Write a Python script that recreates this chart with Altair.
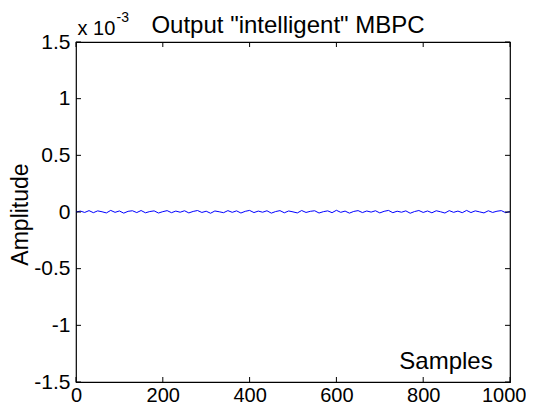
import altair as alt
import pandas as pd

# Output amplitude (units of 1e-3), one value every 10 samples
amplitude = [
    0.000, 0.008, -0.004, 0.012, -0.006, 0.010, 0.002, -0.008, 0.014, -0.003,
    0.009, -0.010, 0.006, 0.011, -0.005, 0.013, -0.007, 0.004, 0.010, -0.009,
    0.003, 0.012, -0.006, 0.008, -0.002, 0.011, -0.008, 0.005, 0.013, -0.004,
    0.007, -0.011, 0.009, 0.002, -0.006, 0.012, -0.003, 0.010, -0.009, 0.006,
    0.014, -0.005, 0.008, -0.002, 0.011, -0.010, 0.004, 0.012, -0.007, 0.009,
    0.001, -0.008, 0.013, -0.004, 0.006, 0.011, -0.009, 0.003, 0.010, -0.006,
    0.015, -0.003, 0.008, -0.010, 0.005, 0.012, -0.005, 0.009, -0.001, 0.011,
    -0.008, 0.006, 0.014, -0.006, 0.007, -0.002, 0.010, -0.011, 0.004, 0.013,
    -0.004, 0.009, -0.007, 0.011, 0.002, -0.009, 0.012, -0.003, 0.008, -0.006,
    0.014, -0.005, 0.010, 0.001, -0.008, 0.011, -0.004, 0.007, 0.012, -0.006,
    0.004,
]
samples = [10 * i for i in range(len(amplitude))]

x_ticks = [0, 200, 400, 600, 800, 1000]
y_ticks = [-1.5, -1, -0.5, 0, 0.5, 1, 1.5]

FONT = "Liberation Sans"
W, H = 434, 340

df = pd.DataFrame({"sample": samples, "amp": amplitude})
xt = pd.DataFrame({"t": x_ticks})
yt = pd.DataFrame({"t": y_ticks})

xscale = alt.Scale(domain=[0, 1000], nice=False, zero=False)
yscale = alt.Scale(domain=[-1.5, 1.5], nice=False, zero=False)

xaxis = alt.Axis(values=x_ticks, ticks=False, domain=False, grid=False,
                 labelFont=FONT, labelFontSize=20, labelColor="black",
                 labelPadding=3, labelFlush=False, labelOverlap=False,
                 labelExpr="toString(datum.value)",
                 labelAlign={"condition": {"test": "datum.value == 1000", "value": "right"},
                             "value": "center"},
                 labelOffset={"condition": {"test": "datum.value == 1000", "value": 16},
                              "value": 0},
                 title="Samples", titleFont=FONT, titleFontSize=24,
                 titleFontWeight="normal", titleColor="black",
                 titleX=369.5, titleY=-14, titleAlign="center",
                 titleBaseline="alphabetic")
yaxis = alt.Axis(values=y_ticks, ticks=False, domain=False, grid=False,
                 labelFont=FONT, labelFontSize=21, labelColor="black",
                 labelPadding=6, labelFlush=False, labelOverlap=False,
                 labelExpr="toString(datum.value)",
                 title="Amplitude", titleFont=FONT, titleFontSize=23,
                 titleFontWeight="normal", titleColor="black",
                 titleAngle=270, titleX=-48.5, titleY=172,
                 titleAlign="center", titleBaseline="alphabetic")

line = alt.Chart(df).mark_line(color="#0000ff", strokeWidth=1).encode(
    x=alt.X("sample:Q", scale=xscale, axis=xaxis, title="Samples"),
    y=alt.Y("amp:Q", scale=yscale, axis=yaxis, title="Amplitude"),
)

xb = alt.Chart(xt).mark_rule(color="black", strokeWidth=1).encode(
    x=alt.X("t:Q", scale=xscale, axis=xaxis, title="Samples"),
    y=alt.value(H), y2=alt.value(H - 5))
xtp = alt.Chart(xt).mark_rule(color="black", strokeWidth=1).encode(
    x=alt.X("t:Q", scale=xscale, axis=xaxis, title="Samples"),
    y=alt.value(0), y2=alt.value(5))
yl = alt.Chart(yt).mark_rule(color="black", strokeWidth=1).encode(
    y=alt.Y("t:Q", scale=yscale, axis=yaxis, title="Amplitude"),
    x=alt.value(0), x2=alt.value(5))
yr = alt.Chart(yt).mark_rule(color="black", strokeWidth=1).encode(
    y=alt.Y("t:Q", scale=yscale, axis=yaxis, title="Amplitude"),
    x=alt.value(W), x2=alt.value(W - 5))

title_df = pd.DataFrame({"txt": ['Output "intelligent" MBPC']})
title = alt.Chart(title_df).mark_text(font=FONT, fontSize=24, color="black",
                                      align="center", baseline="alphabetic").encode(
    text="txt:N", x=alt.value(212), y=alt.value(-9))

exp_df = pd.DataFrame({"txt": ["x 10"]})
exp_base = alt.Chart(exp_df).mark_text(font=FONT, fontSize=20, color="black",
                                       align="left", baseline="alphabetic").encode(
    text="txt:N", x=alt.value(1.5), y=alt.value(-7))
sup_df = pd.DataFrame({"txt": ["-3"]})
exp_sup = alt.Chart(sup_df).mark_text(font=FONT, fontSize=14, color="black",
                                      align="left", baseline="alphabetic").encode(
    text="txt:N", x=alt.value(40.5), y=alt.value(-20))

chart = alt.layer(line, xb, xtp, yl, yr, title, exp_base, exp_sup).properties(
    width=W, height=H,
    autosize=alt.AutoSizeParams(type="none"),
    padding={"left": 68, "top": 34, "right": 16, "bottom": 22},
    background="white",
).configure_view(stroke="black", strokeWidth=1.2)

chart.save("out.html", embed_options={"renderer": "svg", "actions": False})
